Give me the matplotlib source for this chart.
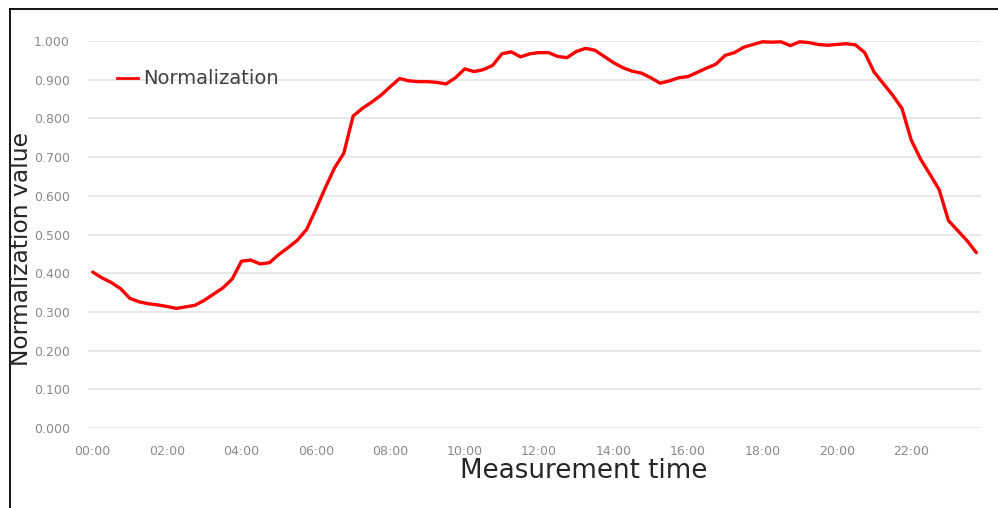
import matplotlib
matplotlib.use("Agg")
import matplotlib.pyplot as plt
from matplotlib.lines import Line2D

# 15-minute measurement slots over one day
times = [f"{h:02d}:{m:02d}" for h in range(24) for m in (0, 15, 30, 45)]

normalization = [
    0.403, 0.388, 0.376, 0.360, 0.335, 0.326, 0.321, 0.318,
    0.314, 0.309, 0.313, 0.317, 0.330, 0.346, 0.362, 0.385,
    0.431, 0.434, 0.424, 0.427, 0.448, 0.466, 0.485, 0.513,
    0.565, 0.620, 0.672, 0.710, 0.806, 0.826, 0.842, 0.860,
    0.882, 0.903, 0.897, 0.895, 0.895, 0.893, 0.889, 0.905,
    0.928, 0.921, 0.926, 0.937, 0.967, 0.972, 0.959, 0.967,
    0.970, 0.970, 0.960, 0.957, 0.973, 0.981, 0.976, 0.960,
    0.944, 0.931, 0.922, 0.917, 0.905, 0.891, 0.897, 0.905,
    0.908, 0.919, 0.930, 0.940, 0.963, 0.970, 0.984, 0.991,
    0.998, 0.997, 0.998, 0.988, 0.998, 0.996, 0.991, 0.989,
    0.991, 0.993, 0.990, 0.970, 0.920, 0.890, 0.860, 0.826,
    0.744, 0.695, 0.656, 0.616, 0.536, 0.510, 0.484, 0.453,
]

y_ticks = [0.0, 0.1, 0.2, 0.3, 0.4, 0.5, 0.6, 0.7, 0.8, 0.9, 1.0]
series_name = "Normalization"
x_title = "Measurement time"
y_title = "Normalization value"

W, H = 998, 508
fig = plt.figure(figsize=(W / 100, H / 100), dpi=100)
fig.patch.set_facecolor("white")

ax = fig.add_axes([88 / W, 1 - 428 / H, 893 / W, 387 / H])
x = list(range(len(times)))
line, = ax.plot(x, normalization, color="#ff0000", lw=2.4, solid_joinstyle="round",
                solid_capstyle="round", clip_on=False, zorder=3)

ax.set_xlim(-0.5, len(times) - 0.5)
ax.set_ylim(0, 1.0)
ax.set_yticks(y_ticks)
ax.set_yticklabels([f"{v:.3f}" for v in y_ticks])
tick_pos = x[::8]
ax.set_xticks(tick_pos)
ax.set_xticklabels([times[i] for i in tick_pos])

ax.tick_params(axis="both", length=0, labelsize=9, labelcolor="#8a8a8a")
ax.tick_params(axis="y", pad=13)
ax.tick_params(axis="x", pad=12)
for s in ax.spines.values():
    s.set_visible(False)
ax.grid(axis="y", color="#e8e8e8", lw=1.4)
ax.set_axisbelow(True)

# legend
handle = Line2D([], [], color="#ff0000", lw=2.0)
fig.legend([handle], [series_name], loc="center left",
           bbox_to_anchor=(117 / W, 1 - 79 / H), frameon=False,
           borderaxespad=0, borderpad=0, handlelength=1.1, handletextpad=0.25,
           prop={"size": 14}, labelcolor="#404040")

# axis titles
fig.text(584 / W, 1 - 471 / H, x_title, ha="center", va="center",
         fontsize=18.8, color="#262626")
fig.text(22 / W, 1 - 249 / H, y_title, ha="center", va="center",
         rotation=90, fontsize=16.8, color="#262626")

# outer frame (top and left edges)
fig.add_artist(Line2D([9.5 / W, 1.0], [1 - 8.5 / H, 1 - 8.5 / H],
                      transform=fig.transFigure, color="black", lw=1.3))
fig.add_artist(Line2D([9.5 / W, 9.5 / W], [0, 1 - 8.5 / H],
                      transform=fig.transFigure, color="black", lw=1.3))

fig.savefig("out.png", dpi=100, facecolor="white")
